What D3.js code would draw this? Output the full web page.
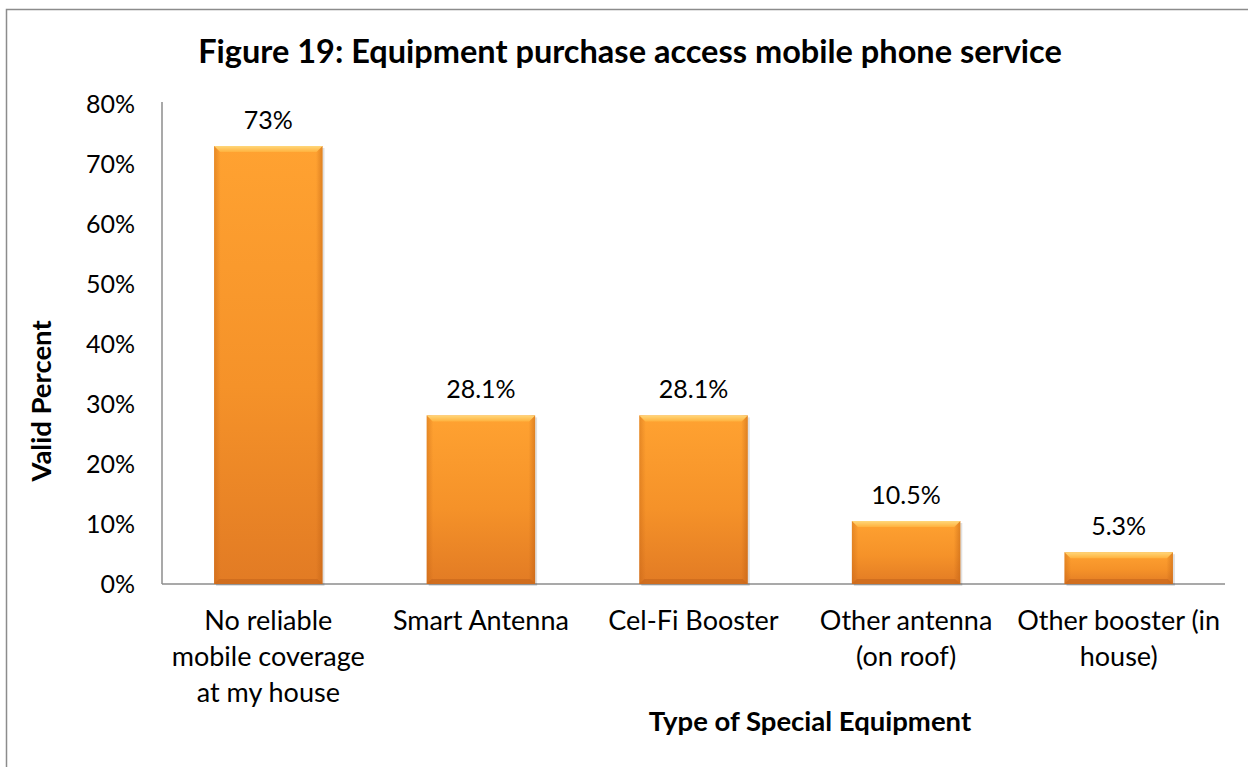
<!DOCTYPE html>
<html><head><meta charset="utf-8">
<script src="https://cdn.jsdelivr.net/npm/d3@7"></script>
<style>body{margin:0;background:#fff}svg{display:block}text{font-family:Lato,"Open Sans",sans-serif}</style>
</head><body><svg id="c" width="1248" height="767"></svg>
<script>
const categories = [["No reliable","mobile coverage","at my house"],["Smart Antenna"],["Cel-Fi Booster"],["Other antenna","(on roof)"],["Other booster (in","house)"]];
const values = [73, 28.1, 28.1, 10.5, 5.3];
const valueLabels = ["73%","28.1%","28.1%","10.5%","5.3%"];
const yTicks = [0,10,20,30,40,50,60,70,80];
const title = "Figure 19: Equipment purchase access mobile phone service";
const xTitle = "Type of Special Equipment";
const yTitle = "Valid Percent";

const svg = d3.select("#c");
svg.append("rect").attr("x",6.5).attr("y",9.5).attr("width",1260).attr("height",780)
  .attr("fill","#fff").attr("stroke","#8c8c8c").attr("stroke-width",1.5);

const m = {l:162, r:1225, t:104, b:584};
const x = d3.scaleBand().domain(d3.range(values.length)).range([m.l, m.r]).paddingInner(0.49).paddingOuter(0.245);
const y = d3.scaleLinear().domain([0,80]).range([m.b, m.t]);

const defs = svg.append("defs");
const gv = defs.append("linearGradient").attr("id","gv").attr("x1",0).attr("y1",0).attr("x2",0).attr("y2",1);
gv.append("stop").attr("offset","0%").attr("stop-color","#FFA231");
gv.append("stop").attr("offset","55%").attr("stop-color","#F59229");
gv.append("stop").attr("offset","100%").attr("stop-color","#E27B24");
const gh = defs.append("linearGradient").attr("id","gh").attr("x1",0).attr("y1",0).attr("x2",1).attr("y2",0);
gh.append("stop").attr("offset","0%").attr("stop-color","#B85A10").attr("stop-opacity",0.35);
gh.append("stop").attr("offset","6%").attr("stop-color","#B85A10").attr("stop-opacity",0);
gh.append("stop").attr("offset","94%").attr("stop-color","#B85A10").attr("stop-opacity",0);
gh.append("stop").attr("offset","100%").attr("stop-color","#B85A10").attr("stop-opacity",0.45);
const gt = defs.append("linearGradient").attr("id","gt").attr("x1",0).attr("y1",0).attr("x2",0).attr("y2",1);
gt.append("stop").attr("offset","0%").attr("stop-color","#FFD77A");
gt.append("stop").attr("offset","100%").attr("stop-color","#FFB23E");

// axes
const yAxis = d3.axisLeft(y).tickValues(yTicks).tickFormat(d=>d+"%").tickSize(0).tickPadding(0);
const ya = svg.append("g").attr("transform",`translate(${m.l},0)`).call(yAxis);
ya.select(".domain").remove();
ya.selectAll("text").attr("x",-27).attr("font-size",25).attr("font-family","Lato").attr("fill","#000").attr("dy","0.35em");
svg.append("line").attr("x1",m.l).attr("x2",m.l).attr("y1",102).attr("y2",m.b).attr("stroke","#8c8c8c").attr("stroke-width",1.5);
svg.append("line").attr("x1",m.l).attr("x2",m.r).attr("y1",m.b).attr("y2",m.b).attr("stroke","#8c8c8c").attr("stroke-width",1.5);

// bars
const g = svg.append("g").selectAll("g").data(values).join("g");
g.append("rect").attr("x",(d,i)=>x(i)+2).attr("y",d=>y(d)+2).attr("width",x.bandwidth()).attr("height",d=>m.b-y(d))
  .attr("fill","#000").attr("opacity",0.12);
g.append("rect").attr("x",(d,i)=>x(i)).attr("y",d=>y(d)).attr("width",x.bandwidth()).attr("height",d=>m.b-y(d)).attr("fill","url(#gv)");
g.append("rect").attr("x",(d,i)=>x(i)).attr("y",d=>y(d)).attr("width",x.bandwidth()).attr("height",d=>m.b-y(d)).attr("fill","url(#gh)");
g.append("path").attr("d",(d,i)=>{const x0=x(i),x1=x0+x.bandwidth(),t=y(d),b=6;return `M${x0},${t}L${x1},${t}L${x1-b},${t+b}L${x0+b},${t+b}Z`;}).attr("fill","url(#gt)");
g.append("path").attr("d",(d,i)=>{const x0=x(i),x1=x0+x.bandwidth(),bt=m.b,b=5;return `M${x0},${bt}L${x1},${bt}L${x1-b},${bt-b}L${x0+b},${bt-b}Z`;}).attr("fill","#C9681C").attr("opacity",0.7);

// value labels
svg.append("g").selectAll("text").data(values).join("text")
  .attr("x",(d,i)=>x(i)+x.bandwidth()/2).attr("y",d=>y(d)-17).attr("text-anchor","middle")
  .attr("font-size",25).attr("fill","#000").text((d,i)=>valueLabels[i]);

// category labels
svg.append("g").selectAll("text").data(categories).join("text")
  .attr("text-anchor","middle").attr("font-size",27).attr("fill","#000")
  .each(function(lines,i){
    const t=d3.select(this);
    lines.forEach((ln,j)=>t.append("tspan").attr("x",x(i)+x.bandwidth()/2).attr("y",630+j*36).text(ln));
  });

// titles
svg.append("text").attr("x",630).attr("y",63).attr("text-anchor","middle").attr("font-size",32.5).attr("font-weight","bold").text(title);
svg.append("text").attr("x",810).attr("y",731).attr("text-anchor","middle").attr("font-size",27.5).attr("font-weight","bold").text(xTitle);
svg.append("text").attr("transform","translate(51,401) rotate(-90)").attr("text-anchor","middle").attr("font-size",27.5).attr("font-weight","bold").text(yTitle);
</script></body></html>
